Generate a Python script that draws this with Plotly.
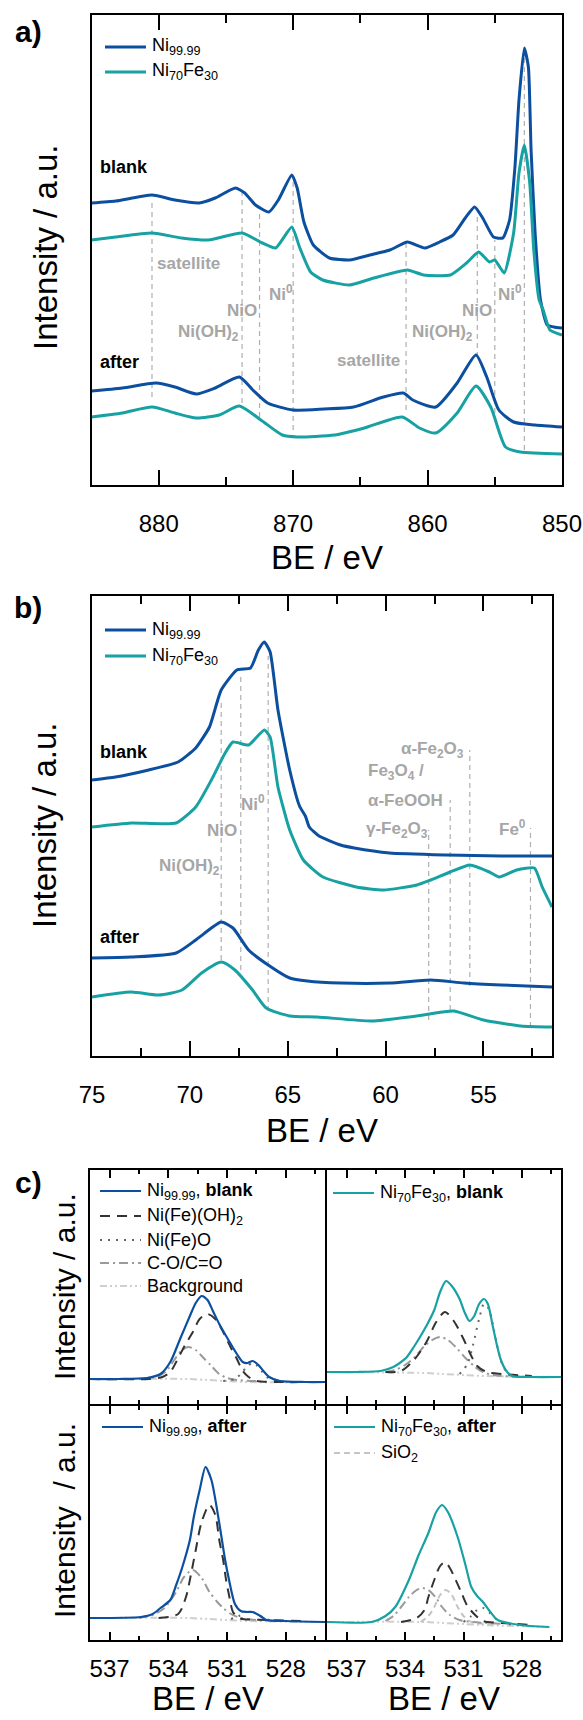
import plotly.graph_objects as go

W, H = 583, 1720
FONT = "Arial, 'Liberation Sans', sans-serif"
BLUE = "#0c4f9f"
TEAL = "#17a1a3"
LBL_GRAY = "#a6a6a6"
GUIDE_GRAY = "#b0b0b0"

# ---------------- panel a : Ni 2p (BE / eV, intensity a.u.) ----------------
a_ni_blank = [(885.0, 282), (883.2, 284), (880.5, 290), (878.8, 285), (877.0, 282), (875.8, 287),
              (874.3, 297), (873.6, 292), (872.8, 280), (871.8, 273), (871.1, 285), (870.1, 310),
              (869.7, 297), (869.2, 263), (868.5, 240), (867.3, 227), (865.8, 225), (864.3, 230),
              (862.8, 235), (861.5, 243), (860.2, 237), (859.1, 243), (858.1, 250), (857.2, 267),
              (856.5, 278), (855.9, 267), (855.1, 248), (854.4, 247), (853.9, 265), (853.5, 318),
              (853.2, 385), (852.8, 437), (852.5, 418), (852.3, 335), (852.0, 252), (851.6, 185),
              (851.1, 160), (850.6, 158), (850.0, 157)]
a_nife_blank = [(885.0, 245), (883.2, 248), (880.5, 252), (878.3, 247), (876.3, 245), (873.8, 252),
                (872.3, 242), (871.3, 237), (870.1, 258), (869.5, 237), (868.7, 213), (867.8, 205),
                (865.8, 200), (864.0, 207), (861.5, 215), (860.3, 210), (858.3, 210), (857.1, 222),
                (856.2, 233), (855.4, 223), (855.0, 225), (854.3, 212), (853.6, 252), (853.2, 312),
                (852.8, 340), (852.4, 302), (852.1, 235), (851.7, 185), (851.4, 175), (850.9, 155),
                (850.0, 150)]
a_ni_after = [(885.0, 94), (882.7, 97), (880.2, 102), (878.8, 98), (877.2, 91), (875.8, 97),
              (874.0, 108), (873.0, 95), (871.9, 82), (870.0, 75), (867.7, 76), (865.5, 78),
              (863.3, 88), (861.8, 92), (861.1, 85), (859.4, 78), (857.8, 102), (856.4, 130),
              (855.6, 108), (854.7, 75), (853.6, 63), (852.0, 60), (850.0, 58)]
a_nife_after = [(885.0, 68), (882.7, 72), (880.5, 78), (878.8, 72), (877.2, 67), (875.5, 70),
                (874.0, 79), (872.4, 65), (870.8, 50), (869.7, 48), (866.9, 50), (864.7, 57),
                (861.9, 68), (860.6, 57), (859.4, 52), (857.8, 72), (856.4, 99), (855.3, 78),
                (854.2, 38), (853.1, 33), (850.0, 31)]
# reference lines: (BE, upper end, lower end)
a_guides = [(880.5, 285, 88), (873.8, 295, 82), (872.5, 272, 68), (870.0, 308, 55),
            (861.6, 242, 75), (856.3, 272, 128), (855.0, 245, 72), (852.8, 435, 35)]
# species labels: (text, BE, intensity)
a_labels = [("satellite", 877.8, 222), ("Ni(OH)<sub>2</sub>", 876.3, 152), ("NiO", 873.8, 175),
            ("Ni<sup>0</sup>", 870.9, 192), ("satellite", 864.4, 125),
            ("Ni(OH)<sub>2</sub>", 858.9, 152), ("NiO", 856.3, 175), ("Ni<sup>0</sup>", 853.9, 192)]
a_state = [("blank", 884.5, 318), ("after", 884.5, 123)]
a_ticks = [880, 870, 860, 850]
a_minor = [875, 865, 855]

# ---------------- panel b : Fe 3p / Ni 3p ----------------
b_ni_blank = [(75.0, 276), (73.8, 279), (72.1, 286), (70.6, 294), (69.7, 308), (69.0, 329),
              (68.4, 366), (67.6, 386), (66.9, 388), (66.5, 406), (66.2, 414), (65.9, 404),
              (65.5, 346), (64.9, 286), (64.4, 250), (64.1, 240), (63.9, 229), (63.4, 220),
              (62.3, 211), (61.6, 208), (59.8, 203), (56.9, 201), (54.1, 200), (51.5, 200)]
b_nife_blank = [(75.0, 229), (73.0, 233), (70.7, 233), (69.7, 249), (68.9, 276), (68.2, 303),
                (67.8, 314), (67.0, 311), (66.2, 326), (65.9, 319), (65.5, 269), (64.9, 226),
                (64.2, 196), (63.2, 179), (61.5, 169), (60.1, 166), (58.4, 171), (57.7, 176),
                (56.7, 184), (55.7, 191), (54.7, 184), (54.2, 179), (53.3, 186), (52.4, 188),
                (52.0, 169), (51.5, 149)]
b_ni_after = [(75.0, 98), (73.0, 99), (70.7, 103), (69.7, 116), (68.9, 128), (68.4, 134),
              (67.8, 128), (67.0, 106), (66.0, 91), (64.9, 78), (64.0, 75), (62.3, 73),
              (59.8, 73), (57.7, 76), (56.0, 73), (54.1, 71), (51.5, 69)]
b_nife_after = [(75.0, 59), (73.0, 64), (71.6, 61), (70.4, 66), (69.4, 83), (68.4, 94),
                (67.7, 86), (66.8, 66), (66.1, 48), (64.9, 40), (63.5, 39), (60.7, 35),
                (58.8, 39), (57.1, 44), (56.5, 45), (55.0, 36), (53.1, 30), (51.5, 29)]
b_guides = [(68.4, 353, 96), (67.4, 383, 86), (66.0, 400, 45), (57.8, 226, 36),
            (56.7, 256, 46), (55.7, 306, 70), (52.6, 228, 29)]
b_labels_c = [("Ni(OH)<sub>2</sub>", 70.0, 189), ("NiO", 68.35, 226), ("Ni<sup>0</sup>", 66.8, 253),
              ("α-Fe<sub>2</sub>O<sub>3</sub>", 57.6, 306), ("Fe<sup>0</sup>", 53.5, 228)]
b_labels_l = [("Fe<sub>3</sub>O<sub>4</sub> /", 61.0, 284), ("α-FeOOH", 61.0, 256),
              ("γ-Fe<sub>2</sub>O<sub>3</sub>", 61.1, 226)]
b_state = [("blank", 74.67, 304), ("after", 74.67, 119)]
b_ticks = [75, 70, 65, 60, 55]
b_minor = [72.5, 67.5, 62.5, 57.5, 52.5]

# ---------------- panel c : O 1s fits ----------------
c_ticks = [537, 534, 531, 528]
c_minor = [535.5, 532.5, 529.5, 526.5]
# Ni99.99 blank
c1_meas = [(538.0, 25), (536.5, 25), (535.1, 26), (534.4, 30), (533.9, 42), (533.4, 65), (532.9, 88),
           (532.6, 101), (532.3, 108), (532.0, 104), (531.7, 92), (531.4, 80), (531.05, 68),
           (530.5, 50), (530.2, 42), (529.95, 41), (529.7, 43), (529.4, 39), (529.1, 32),
           (528.85, 27), (528.3, 23), (527.0, 22), (526.0, 22)]
c1_oh = [(538.0, 25), (535.0, 25), (534.3, 27), (533.9, 32), (533.6, 42), (533.2, 57), (532.75, 72),
         (532.4, 85), (532.0, 90), (531.6, 85), (531.2, 72), (530.8, 56), (530.5, 45), (530.2, 33),
         (529.9, 27), (529.5, 23), (528.5, 22), (526.0, 22)]
c1_o = [(531.2, 23), (530.6, 25), (530.3, 30), (530.0, 37), (529.7, 41), (529.45, 38), (529.2, 32),
        (528.9, 26), (528.5, 23), (527.5, 22)]
c1_co = [(535.5, 25), (535.0, 26), (534.5, 28), (534.1, 33), (533.7, 44), (533.4, 52), (533.0, 57),
         (532.6, 54), (532.2, 46), (531.8, 38), (531.4, 30), (531.0, 26), (530.5, 24), (529.5, 23)]
c1_bg = [(538.0, 25), (533.0, 25), (532.0, 24), (531.0, 23), (530.0, 22), (526.0, 22)]
# Ni70Fe30 blank
c2_meas = [(538.0, 32), (536.5, 32), (535.25, 33), (534.6, 37), (534.2, 42), (533.9, 47), (533.55, 57),
           (533.2, 68), (532.85, 80), (532.5, 94), (532.2, 112), (531.9, 123), (531.6, 118),
           (531.2, 105), (530.95, 92), (530.7, 83), (530.45, 88), (530.2, 100), (529.95, 105),
           (529.75, 100), (529.5, 78), (529.3, 60), (529.1, 45), (528.8, 33), (528.5, 28),
           (527.5, 27), (526.0, 27)]
c2_oh = [(535.0, 32), (534.2, 33), (533.5, 45), (532.9, 62), (532.4, 82), (531.95, 92), (531.5, 83),
         (531.0, 65), (530.6, 48), (530.3, 38), (529.8, 32), (529.0, 30), (527.5, 28)]
c2_o = [(531.2, 30), (530.8, 40), (530.5, 60), (530.2, 85), (529.95, 100), (529.7, 95), (529.45, 75),
        (529.2, 52), (528.95, 37), (528.6, 29), (527.5, 27)]
c2_co = [(535.0, 32), (534.5, 34), (534.0, 39), (533.5, 47), (533.0, 58), (532.6, 64), (532.2, 67),
         (531.8, 64), (531.4, 57), (530.9, 46), (530.4, 37), (530.0, 32), (529.5, 29), (528.0, 27)]
c2_bg = [(538.0, 32), (533.0, 31), (532.0, 30), (531.0, 29), (530.0, 28), (526.0, 27)]
# Ni99.99 after
c3_meas = [(538.0, 22), (535.4, 23), (534.8, 26), (534.4, 32), (533.9, 40), (533.6, 55), (533.3, 72),
           (532.9, 100), (532.7, 123), (532.4, 150), (532.1, 173), (531.8, 160), (531.4, 117),
           (531.1, 80), (530.9, 60), (530.6, 36), (530.3, 29), (530.0, 28), (529.7, 28),
           (529.3, 24), (529.0, 20), (528.0, 19), (526.0, 18)]
c3_oh = [(534.5, 22), (533.5, 26), (533.1, 43), (532.85, 65), (532.6, 90), (532.3, 118), (531.9, 135),
         (531.6, 125), (531.4, 100), (531.2, 80), (531.05, 60), (530.85, 40), (530.7, 28),
         (530.4, 22), (529.0, 20), (527.0, 19)]
c3_o = [(530.8, 21), (530.4, 24), (530.0, 28), (529.7, 28), (529.4, 25), (529.0, 21), (528.5, 19)]
c3_co = [(535.5, 22), (534.8, 25), (534.2, 32), (533.6, 48), (533.2, 63), (532.75, 70), (532.3, 62),
         (531.9, 48), (531.5, 38), (531.2, 32), (530.8, 26), (530.3, 22), (529.5, 20), (528.0, 19)]
c3_bg = [(538.0, 22), (533.0, 22), (532.0, 21), (531.0, 20), (530.0, 19), (526.0, 18)]
# Ni70Fe30 after
c4_meas = [(538.0, 18), (535.7, 18), (535.0, 24), (534.5, 33), (533.8, 60), (533.3, 85), (532.8, 107),
           (532.4, 128), (532.1, 135), (531.8, 128), (531.3, 103), (530.9, 75), (530.6, 53),
           (530.3, 44), (530.0, 38), (529.7, 30), (529.25, 20), (528.1, 15), (526.6, 13)]
c4_oh = [(534.2, 18), (533.4, 22), (533.0, 30), (532.8, 43), (532.5, 60), (532.2, 74), (531.95, 78),
         (531.7, 72), (531.4, 60), (531.1, 47), (530.8, 34), (530.4, 25), (530.0, 19), (529.0, 17),
         (527.5, 15)]
c4_o = [(531.0, 18), (530.6, 24), (530.3, 30), (530.0, 32), (529.7, 28), (529.4, 22), (529.0, 17),
        (528.0, 15)]
c4_co = [(535.0, 19), (534.6, 24), (534.2, 33), (533.8, 43), (533.4, 50), (533.1, 52), (532.8, 50),
         (532.4, 42), (532.1, 33), (531.7, 25), (531.2, 20), (530.5, 18), (529.0, 16)]
c4_sio2 = [(533.2, 18), (532.8, 24), (532.5, 33), (532.2, 45), (531.9, 50), (531.6, 45), (531.3, 33),
           (531.0, 24), (530.6, 18), (529.5, 16)]
c4_bg = [(538.0, 18), (533.0, 18), (532.0, 17), (531.0, 16), (530.0, 15), (526.6, 13)]

# component styles
STY = {
    "oh": dict(color="#333333", width=2, dash="10px,7px"),
    "o": dict(color="#666666", width=2, dash="2px,6px"),
    "co": dict(color="#9a9a9a", width=2, dash="9px,4px,2px,4px"),
    "bg": dict(color="#cfcfcf", width=2, dash="7px,3px,2px,3px,2px,3px"),
    "sio2": dict(color="#c4c4c4", width=2, dash="6px,4px"),
}


def xp(v):
    return v / W


def yp(v):
    return 1 - v / H


fig = go.Figure()


def add_line(pairs, color, width, xa, ya, name, dash=None, smooth=0.6):
    xs = [p[0] for p in pairs]
    ys = [p[1] for p in pairs]
    ln = dict(color=color, width=width, shape="spline", smoothing=smooth)
    if dash:
        ln["dash"] = dash
    fig.add_trace(go.Scatter(x=xs, y=ys, mode="lines", line=ln, xaxis=xa, yaxis=ya,
                             name=name, showlegend=False, hoverinfo="skip"))


# panel a traces
add_line(a_ni_blank, BLUE, 3, "x", "y", "Ni99.99 blank", smooth=0.5)
add_line(a_nife_blank, TEAL, 3, "x", "y", "Ni70Fe30 blank", smooth=0.5)
add_line(a_ni_after, BLUE, 3, "x", "y", "Ni99.99 after")
add_line(a_nife_after, TEAL, 3, "x", "y", "Ni70Fe30 after")
# panel b traces
add_line(b_ni_blank, BLUE, 3, "x2", "y2", "Ni99.99 blank", smooth=0.5)
add_line(b_nife_blank, TEAL, 3, "x2", "y2", "Ni70Fe30 blank", smooth=0.5)
add_line(b_ni_after, BLUE, 3, "x2", "y2", "Ni99.99 after")
add_line(b_nife_after, TEAL, 3, "x2", "y2", "Ni70Fe30 after")

# panel c traces
for (meas, col, comps, xa, ya) in [
    (c1_meas, BLUE, [("bg", c1_bg), ("co", c1_co), ("o", c1_o), ("oh", c1_oh)], "x3", "y3"),
    (c2_meas, TEAL, [("bg", c2_bg), ("co", c2_co), ("o", c2_o), ("oh", c2_oh)], "x4", "y4"),
    (c3_meas, BLUE, [("bg", c3_bg), ("co", c3_co), ("o", c3_o), ("oh", c3_oh)], "x5", "y5"),
    (c4_meas, TEAL, [("bg", c4_bg), ("sio2", c4_sio2), ("co", c4_co), ("o", c4_o), ("oh", c4_oh)], "x6", "y6"),
]:
    for key, pts in comps:
        s = STY[key]
        add_line(pts, s["color"], s["width"], xa, ya, key, dash=s["dash"], smooth=0.8)
    add_line(meas, col, 2.2, xa, ya, "measured", smooth=0.7)

shapes = []
annotations = []

# guide lines
for (be, top, bot) in a_guides:
    shapes.append(dict(type="line", xref="x", yref="y", x0=be, x1=be, y0=bot, y1=top,
                       line=dict(color=GUIDE_GRAY, width=1.2, dash="5px,4px"), layer="below"))
for (be, top, bot) in b_guides:
    shapes.append(dict(type="line", xref="x2", yref="y2", x0=be, x1=be, y0=bot, y1=top,
                       line=dict(color=GUIDE_GRAY, width=1.2, dash="5px,4px"), layer="below"))

LBL = dict(family=FONT, size=17, color=LBL_GRAY)
for (t, be, v) in a_labels:
    annotations.append(dict(text="<b>%s</b>" % t, x=be, y=v, xref="x", yref="y", showarrow=False,
                            font=LBL, xanchor="center", yanchor="middle"))
for (t, be, v) in b_labels_c:
    annotations.append(dict(text="<b>%s</b>" % t, x=be, y=v, xref="x2", yref="y2", showarrow=False,
                            font=LBL, xanchor="center", yanchor="middle"))
for (t, be, v) in b_labels_l:
    annotations.append(dict(text="<b>%s</b>" % t, x=be, y=v, xref="x2", yref="y2", showarrow=False,
                            font=LBL, xanchor="left", yanchor="middle"))
STATE = dict(family=FONT, size=18, color="black")
for (t, be, v) in a_state:
    annotations.append(dict(text="<b>%s</b>" % t, x=be, y=v, xref="x", yref="y", showarrow=False,
                            font=STATE, xanchor="left", yanchor="middle"))
for (t, be, v) in b_state:
    annotations.append(dict(text="<b>%s</b>" % t, x=be, y=v, xref="x2", yref="y2", showarrow=False,
                            font=STATE, xanchor="left", yanchor="middle"))

# panel letters
for (t, yy) in [("a)", 32), ("b)", 607), ("c)", 1182)]:
    annotations.append(dict(text="<b>%s</b>" % t, x=xp(28), y=yp(yy), xref="paper", yref="paper",
                            showarrow=False, xanchor="center", yanchor="middle",
                            font=dict(family=FONT, size=30, color="black")))

# axis titles
TITLE = dict(family=FONT, size=33, color="black")
for (xx, yy) in [(327, 557), (322, 1130), (208, 1698), (443.5, 1698)]:
    annotations.append(dict(text="BE / eV", x=xp(xx), y=yp(yy), xref="paper", yref="paper",
                            showarrow=False, xanchor="center", yanchor="middle", font=TITLE))
for (t, xx, yy, sz) in [("Intensity / a.u.", 45, 248, 33), ("Intensity / a.u.", 45, 826, 33),
                        ("Intensity / a.u.", 64, 1287, 30), ("Intensity  / a.u.", 64, 1521, 30)]:
    annotations.append(dict(text=t, x=xp(xx), y=yp(yy), xref="paper", yref="paper", textangle=-90,
                            showarrow=False, xanchor="center", yanchor="middle",
                            font=dict(family=FONT, size=sz, color="black")))

# legends (sample line + text)
LEG = dict(family=FONT, size=18, color="black")


def legend_item(x0, x1, yy, line, text):
    shapes.append(dict(type="line", xref="paper", yref="paper", x0=xp(x0), x1=xp(x1),
                       y0=yp(yy), y1=yp(yy), line=line))
    annotations.append(dict(text=text, x=xp(x1 + 4), y=yp(yy), xref="paper", yref="paper",
                            showarrow=False, xanchor="left", yanchor="middle", font=LEG))


NI = "Ni<sub>99.99</sub>"
NIFE = "Ni<sub>70</sub>Fe<sub>30</sub>"
legend_item(105, 146, 47, dict(color=BLUE, width=3), NI)
legend_item(105, 146, 72, dict(color=TEAL, width=3), NIFE)
legend_item(105, 146, 630, dict(color=BLUE, width=3), NI)
legend_item(105, 146, 656, dict(color=TEAL, width=3), NIFE)

legend_item(100, 141, 1191, dict(color=BLUE, width=2.2), NI + ", <b>blank</b>")
legend_item(100, 141, 1216, dict(color=STY["oh"]["color"], width=2, dash=STY["oh"]["dash"]),
            "Ni(Fe)(OH)<sub>2</sub>")
legend_item(100, 141, 1240, dict(color=STY["o"]["color"], width=2, dash=STY["o"]["dash"]), "Ni(Fe)O")
legend_item(100, 141, 1263, dict(color=STY["co"]["color"], width=2, dash=STY["co"]["dash"]), "C-O/C=O")
legend_item(100, 141, 1286, dict(color=STY["bg"]["color"], width=2, dash=STY["bg"]["dash"]), "Background")
legend_item(333, 374, 1193, dict(color=TEAL, width=2.2), NIFE + ", <b>blank</b>")
legend_item(102, 143, 1427, dict(color=BLUE, width=2.2), NI + ", <b>after</b>")
legend_item(334, 375, 1427, dict(color=TEAL, width=2.2), NIFE + ", <b>after</b>")
legend_item(334, 375, 1453, dict(color=STY["sio2"]["color"], width=2, dash=STY["sio2"]["dash"]),
            "SiO<sub>2</sub>")

TICKF = dict(family=FONT, size=24, color="black")


def xaxis(dom, rng, ticks, minor, tlen, mlen, labels=True, standoff=16):
    return dict(domain=dom, range=rng, tickmode="array", tickvals=ticks,
                ticktext=[str(t) for t in ticks], ticks="inside", ticklen=tlen, tickwidth=2,
                tickcolor="black",
                minor=dict(tickmode="array", tickvals=minor, ticks="inside", ticklen=mlen,
                           tickwidth=2, tickcolor="black", showgrid=False),
                showline=True, linewidth=2, linecolor="black", mirror="ticks", showgrid=False,
                zeroline=False, showticklabels=labels, tickfont=TICKF, ticklabelstandoff=standoff,
                fixedrange=True, automargin=False)


def yaxis(dom, rng, anchor):
    return dict(domain=dom, range=rng, anchor=anchor, showline=True, linewidth=2, linecolor="black",
                mirror=True, ticks="", showticklabels=False, showgrid=False, zeroline=False,
                fixedrange=True, automargin=False)


# axis lines are drawn just outside each plot area, so the inner panels of c)
# leave a 2 px gap to let the shared border lines coincide
ya_a = [yp(485), yp(15)]
ya_b = [yp(1056), yp(596)]
ya_ct = [yp(1404), yp(1170)]
ya_cb = [yp(1640), yp(1406)]
xl = [xp(90), xp(325)]
xr = [xp(327), xp(561)]

fig.update_layout(
    template="none",
    width=W, height=H, autosize=False,
    margin=dict(l=0, r=0, t=0, b=0, pad=0),
    paper_bgcolor="white", plot_bgcolor="white",
    showlegend=False,
    font=dict(family=FONT, color="black"),
    xaxis=dict(xaxis([xp(91.5), xp(562)], [885, 850], a_ticks, a_minor, 15, 8), anchor="y"),
    yaxis=yaxis(ya_a, [0, 470], "x"),
    xaxis2=dict(xaxis([xp(92), xp(552)], [75, 51.5], b_ticks, b_minor, 15, 8), anchor="y2"),
    yaxis2=yaxis(ya_b, [0, 460], "x2"),
    xaxis3=dict(xaxis(xl, [538, 526], c_ticks, c_minor, 8, 4, labels=False), anchor="y3"),
    yaxis3=yaxis(ya_ct, [0, 234], "x3"),
    xaxis4=dict(xaxis(xr, [538, 526], c_ticks, c_minor, 8, 4, labels=False), anchor="y4"),
    yaxis4=yaxis(ya_ct, [0, 234], "x4"),
    xaxis5=dict(xaxis(xl, [538, 526], c_ticks, c_minor, 8, 4, standoff=6), anchor="y5"),
    yaxis5=yaxis(ya_cb, [0, 234], "x5"),
    xaxis6=dict(xaxis(xr, [538, 526], c_ticks, c_minor, 8, 4, standoff=6), anchor="y6"),
    yaxis6=yaxis(ya_cb, [0, 234], "x6"),
    shapes=shapes,
    annotations=annotations,
)

fig.write_html("out.html")
